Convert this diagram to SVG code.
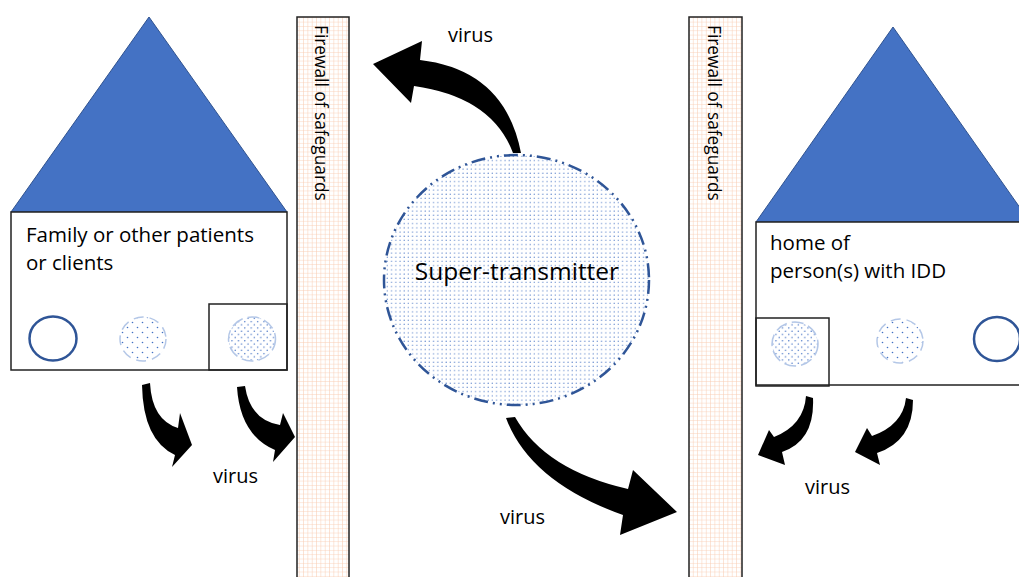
<svg xmlns="http://www.w3.org/2000/svg" width="1019" height="577" viewBox="0 0 1019 577">
<style>
.lbl{font-family:"Open Sans","Liberation Sans",sans-serif;fill:#000;}
.roof{fill:#4472C4;stroke:#2F528F;stroke-width:1;}
.box{fill:#fff;stroke:#222;stroke-width:1.5;}
.wall{fill:url(#grid);stroke:#222;stroke-width:1.5;}
.ring{fill:none;stroke:#2F5597;stroke-width:2.5;}
.arrow{fill:#000;}
</style>
<defs>
<pattern id="grid" width="4.33" height="4.33" patternUnits="userSpaceOnUse">
<rect width="4.33" height="4.33" fill="#fff"/>
<path d="M0,0H4.33M0,0V4.33" stroke="#F9CDB3" stroke-width="1" fill="none"/>
</pattern>
<pattern id="dotsDense" width="4.2" height="4.2" patternUnits="userSpaceOnUse">
<rect width="4.2" height="4.2" fill="#fff"/>
<circle cx="1" cy="1" r="0.6" fill="#4472C4"/>
</pattern>
<pattern id="dotsSmall" width="6.4" height="6.4" patternUnits="userSpaceOnUse">
<rect width="6.4" height="6.4" fill="#fff"/>
<circle cx="1.6" cy="1.6" r="0.75" fill="#4472C4"/>
<circle cx="4.8" cy="4.8" r="0.75" fill="#4472C4"/>
</pattern>
<pattern id="dotsSparse" width="10" height="10" patternUnits="userSpaceOnUse">
<rect width="10" height="10" fill="#fff"/>
<circle cx="2.5" cy="2.5" r="0.8" fill="#4472C4"/>
<circle cx="7.5" cy="7.5" r="0.8" fill="#4472C4"/>
</pattern>
</defs>

<g id="house-left">
<polygon class="roof" points="149,17 11,212 287,212"/>
<rect class="box" x="11" y="212" width="276" height="158"/>
<text class="lbl" x="26" y="242" font-size="20.5">Family or other patients</text>
<text class="lbl" x="26" y="270" font-size="20.5">or clients</text>
<rect class="box" x="209" y="304" width="78" height="66" style="fill:none"/>
<ellipse class="ring" cx="53" cy="338.5" rx="23.5" ry="22"/>
<ellipse cx="143" cy="339" rx="23" ry="22" fill="url(#dotsSparse)" stroke="#B4C7E7" stroke-width="1.5" stroke-dasharray="10 6"/>
<ellipse cx="252" cy="339" rx="23.5" ry="22" fill="url(#dotsSmall)" stroke="#B4C7E7" stroke-width="1.5" stroke-dasharray="12 5"/>
</g>

<g id="firewall-left">
<rect class="wall" x="297" y="17" width="52" height="565"/>
<text class="lbl" font-size="17.3" transform="translate(315,25) rotate(90)">Firewall of safeguards</text>
</g>

<g id="firewall-right">
<rect class="wall" x="689" y="17" width="53" height="565"/>
<text class="lbl" font-size="17.3" transform="translate(708,25) rotate(90)">Firewall of safeguards</text>
</g>

<g id="super-transmitter">
<ellipse cx="516.5" cy="280" rx="132.5" ry="125" fill="url(#dotsDense)" stroke="#2F5597" stroke-width="2.5" stroke-dasharray="14 5 2 5 2 5"/>
<text class="lbl" x="517" y="280" font-size="24.5" text-anchor="middle">Super-transmitter</text>
</g>

<g id="house-right">
<polygon class="roof" points="893,27 756,222 1030,222"/>
<rect class="box" x="756" y="222" width="280" height="163"/>
<text class="lbl" x="770" y="250" font-size="20.5">home of</text>
<text class="lbl" x="770" y="278" font-size="20.5">person(s) with IDD</text>
<rect class="box" x="756" y="318" width="73" height="68" style="fill:none"/>
<ellipse cx="795" cy="344" rx="23" ry="22" fill="url(#dotsSmall)" stroke="#B4C7E7" stroke-width="1.5" stroke-dasharray="12 5"/>
<ellipse cx="900" cy="341" rx="23" ry="22" fill="url(#dotsSparse)" stroke="#B4C7E7" stroke-width="1.5" stroke-dasharray="10 6"/>
<ellipse class="ring" cx="997" cy="339" rx="23" ry="22"/>
</g>

<g id="connectors">
<path class="arrow" d="M373,64 L422,41 L420,60 Q505,70 521,153 L513,153 Q492,97 414,86 L411,103 Z"/>
<path class="arrow" d="M677,512 L620,535 L623,515 Q530,482 506,418 L515,417 Q545,470 628,489 L633,470 Z"/>
<path class="arrow" d="M192,445 L172,467 L175,455 Q143,440 142,385 L150,383 Q152,420 178,428 L180,413 Z"/>
<path class="arrow" d="M295,437 L273,462 L275,450 Q240,435 237,387 L245,386 Q250,420 280,425 L283,413 Z"/>
<path class="arrow" d="M758,455 L769,430 L774,437 Q804,425 806,396 L813,398 Q815,441 782,452 L785,465 Z"/>
<path class="arrow" d="M855,452 L867,428 L872,436 Q903,425 906,398 L913,400 Q913,441 877,453 L880,465 Z"/>
<text class="lbl" x="448" y="42" font-size="20">virus</text>
<text class="lbl" x="213" y="483" font-size="20">virus</text>
<text class="lbl" x="500" y="524" font-size="20">virus</text>
<text class="lbl" x="805" y="494" font-size="20">virus</text>
</g>
</svg>
